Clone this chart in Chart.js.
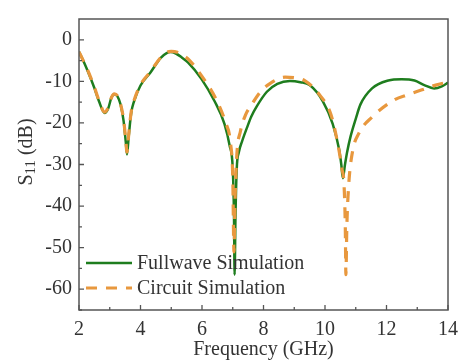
<!DOCTYPE html>
<html><head><meta charset="utf-8">
<script src="https://cdn.jsdelivr.net/npm/chart.js@4/dist/chart.umd.min.js"></script>
<style>html,body{margin:0;padding:0;background:#fff}#wrap{width:466px;height:364px}</style>
</head><body><div id="wrap"><canvas id="c" width="466" height="364"></canvas></div>
<script>
const fullwaveFreq = [2.0,2.15,2.3,2.5,2.65,2.83,2.95,3.05,3.15,3.25,3.35,3.45,3.52,3.56,3.62,3.7,3.79,4.0,4.33,4.65,4.85,4.97,5.15,5.35,5.55,5.98,6.41,6.73,6.9,7.0,7.04,7.06,7.09,7.13,7.2,7.3,7.47,7.6,7.79,8.11,8.45,8.86,9.2,9.5,9.93,10.25,10.46,10.53,10.58,10.65,10.72,10.83,11.0,11.15,11.53,12.06,12.49,12.91,13.23,13.55,13.8,14.0];
const fullwaveS11 = [-2.9,-5.2,-7.8,-11.6,-14.8,-17.6,-16.5,-14.0,-13.1,-13.6,-15.5,-19.5,-24.5,-27.6,-23,-17.5,-14.8,-11.0,-7.8,-4.4,-3.2,-2.95,-3.3,-4.3,-5.5,-9.4,-14.8,-20.2,-25.5,-31,-42,-56.5,-42,-31,-27,-24.5,-21,-18.5,-15.9,-12.5,-10.6,-9.9,-10.2,-10.9,-14.8,-20.2,-26.4,-30,-33.3,-30,-27,-23.3,-19,-15.6,-11.7,-9.8,-9.5,-9.8,-10.9,-11.7,-11.2,-10.3];
const circuitFreq = [2.0,2.15,2.3,2.5,2.65,2.83,2.95,3.05,3.15,3.25,3.35,3.45,3.52,3.56,3.62,3.7,3.79,4.0,4.33,4.65,4.85,5.0,5.2,5.4,5.6,6.0,6.45,6.76,6.93,7.0,7.04,7.07,7.13,7.25,7.42,7.58,7.9,8.22,8.7,9.0,9.34,9.82,10.19,10.41,10.55,10.62,10.66,10.68,10.71,10.77,10.89,11.1,11.53,12.27,12.7,13.13,13.6,14.0];
const circuitS11 = [-2.9,-5.2,-7.6,-11.4,-14.6,-17.4,-16.3,-14.0,-13.0,-13.5,-15.4,-19.2,-24,-27,-22.5,-17.2,-14.6,-10.8,-7.6,-4.3,-3.0,-2.8,-3.0,-3.8,-5.0,-8.8,-14.2,-19.8,-25,-33,-51,-40,-28,-22,-18,-16,-12.5,-10.5,-9.0,-9.1,-9.8,-13.2,-17.9,-24.8,-31,-35,-45,-56.5,-45,-35,-27.1,-22.5,-18.6,-14.4,-13.2,-12.1,-10.9,-10.2];
const xMajorTicks = [2,4,6,8,10,12,14];
const xMinorTicks = [3,5,7,9,11,13];
const yMajorTicks = [-60,-50,-40,-30,-20,-10,0];
const yMinorTicks = [-65,-55,-45,-35,-25,-15,-5];
const seriesNames = ['Fullwave Simulation','Circuit Simulation'];
const xTitle = 'Frequency (GHz)';

const GREEN = '#1e7d1e', ORANGE = '#E8983E', AX = '#555', TXT = '#333';
const FONT = 'Liberation Serif';

const toPts = (xs, ys) => xs.map((x,i)=>({x, y: ys[i]}));

const decor = {
  id: 'decor',
  afterDraw(chart) {
    const ctx = chart.ctx, a = chart.chartArea;
    const xs = chart.scales.x, ys = chart.scales.y;
    ctx.save();
    ctx.strokeStyle = AX; ctx.lineWidth = 1.5;
    ctx.strokeRect(a.left, a.top, a.right - a.left, a.bottom - a.top);
    ctx.lineWidth = 1.3;
    ctx.beginPath();
    xMajorTicks.forEach(v => { const p = xs.getPixelForValue(v); ctx.moveTo(p, a.bottom); ctx.lineTo(p, a.bottom - 5); });
    xMinorTicks.forEach(v => { const p = xs.getPixelForValue(v); ctx.moveTo(p, a.bottom); ctx.lineTo(p, a.bottom - 3); });
    yMajorTicks.forEach(v => { const p = ys.getPixelForValue(v); ctx.moveTo(a.left, p); ctx.lineTo(a.left + 5, p); });
    yMinorTicks.forEach(v => { const p = ys.getPixelForValue(v); ctx.moveTo(a.left, p); ctx.lineTo(a.left + 3, p); });
    ctx.stroke();

    // legend
    ctx.font = '20px "' + FONT + '"';
    ctx.fillStyle = TXT; ctx.textBaseline = 'middle'; ctx.textAlign = 'left';
    const ly = [263, 288];
    ctx.lineCap = 'butt';
    ctx.strokeStyle = GREEN; ctx.lineWidth = 2.5; ctx.setLineDash([]);
    ctx.beginPath(); ctx.moveTo(86, ly[0]); ctx.lineTo(132, ly[0]); ctx.stroke();
    ctx.strokeStyle = ORANGE; ctx.lineWidth = 3.2; ctx.setLineDash([11, 9]);
    ctx.beginPath(); ctx.moveTo(86, ly[1]); ctx.lineTo(132, ly[1]); ctx.stroke();
    ctx.setLineDash([]);
    ctx.fillText(seriesNames[0], 137, ly[0] + 1);
    ctx.fillText(seriesNames[1], 137, ly[1] + 1);

    // x title
    ctx.textAlign = 'center';
    ctx.fillText(xTitle, (a.left + a.right) / 2, 350);

    // y title with subscript
    ctx.translate(26, 152);
    ctx.rotate(-Math.PI / 2);
    ctx.textAlign = 'left'; ctx.textBaseline = 'alphabetic';
    const f1 = '20px "' + FONT + '"', f2 = '15px "' + FONT + '"';
    ctx.font = f1; const wS = ctx.measureText('S').width;
    ctx.font = f2; const w11 = ctx.measureText('11').width;
    ctx.font = f1; const wR = ctx.measureText(' (dB)').width;
    let x0 = -(wS + w11 + wR) / 2;
    ctx.font = f1; ctx.fillText('S', x0, 6);
    ctx.font = f2; ctx.fillText('11', x0 + wS, 9);
    ctx.font = f1; ctx.fillText(' (dB)', x0 + wS + w11, 6);
    ctx.restore();
  }
};

new Chart(document.getElementById('c'), {
  type: 'line',
  data: {
    datasets: [
      { label: seriesNames[0], data: toPts(fullwaveFreq, fullwaveS11), borderColor: GREEN, borderWidth: 2.5, pointRadius: 0, cubicInterpolationMode: 'monotone', order: 2 },
      { label: seriesNames[1], data: toPts(circuitFreq, circuitS11), borderColor: ORANGE, borderWidth: 3.2, borderDash: [11, 9], pointRadius: 0, cubicInterpolationMode: 'monotone', order: 1 }
    ]
  },
  options: {
    responsive: false, animation: false, devicePixelRatio: 1,
    layout: { padding: { top: 8, right: 12, left: 0, bottom: 0 } },
    plugins: { legend: { display: false }, tooltip: { enabled: false } },
    scales: {
      x: {
        type: 'linear', min: 2, max: 14,
        grid: { display: false, drawTicks: false }, border: { display: false },
        afterBuildTicks: s => { s.ticks = xMajorTicks.map(v => ({ value: v })); },
        afterFit: s => { s.height = 54; },
        ticks: { padding: 8, color: TXT, font: { family: FONT, size: 20 }, maxRotation: 0 }
      },
      y: {
        min: -65, max: 5,
        grid: { display: false, drawTicks: false }, border: { display: false },
        afterBuildTicks: s => { s.ticks = yMajorTicks.map(v => ({ value: v })); },
        afterFit: s => { s.width = 79; },
        ticks: { padding: 7, color: TXT, font: { family: FONT, size: 20 } }
      }
    }
  },
  plugins: [decor]
});
</script>
</body></html>
